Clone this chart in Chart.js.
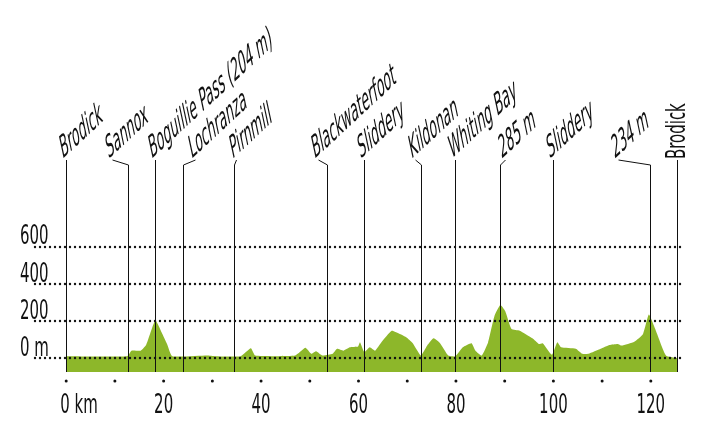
<!DOCTYPE html>
<html><head><meta charset="utf-8">
<script src="https://cdn.jsdelivr.net/npm/chart.js@4"></script>
<style>body{margin:0;background:#fff}#wrap{width:712px;height:445px}</style>
</head><body><div id="wrap"><canvas id="myChart"></canvas></div>
<script>
// elevation profile, km along route and metres
var km = [0,12.5,13.4,15.3,16.4,18.3,19.6,20.7,21.8,28.9,30.6,35.8,37.9,38.8,47,49.1,50.3,51.3,52.6,54.7,55.6,56.9,58.2,59.9,60.3,61.2,62.3,63.4,64.7,66.8,68.5,69.8,71.1,72.8,74.1,75.4,76.7,78.4,79.9,81.4,83.2,84,85.3,86.6,87.9,89.1,90.1,91.4,93.1,95.7,97,97.8,99.7,100.8,101.6,104.6,105.9,107.2,109.7,111.5,113.2,114,116.6,118.4,119.6,120.9,123.1,125.4];
var elev = [10,10,40,40,70,204,138,76,10,14,10,10,53,14,14,55,23,37,14,23,50,40,58,62,85,32,58,40,85,147,130,112,81,14,67,106,81,14,10,58,80,40,14,85,226,285,253,156,147,106,76,80,18,85,58,50,23,23,50,70,76,67,88,130,234,156,14,0];

var places = ["Brodick","Sannox","Boguillie Pass (204 m)","Lochranza","Pirnmill","Blackwaterfoot","Sliddery","Kildonan","Whiting Bay","285 m","Sliddery","234 m","Brodick"];
var placeKm = [0,12.7,18.3,23.9,34.5,53.6,61.2,72.8,79.9,89.1,100,119.8,125.4];

var yTicks = [0,200,400,600];
var xTicks = [0,20,40,60,80,100,120];

var FONT = '"DejaVu Sans Condensed",sans-serif';
var SQ = 0.64; // horizontal squeeze to mimic a narrow face
var leaderDx = [0,-16,0,12,2,-9,0,-6,0,5,0,-32,0];

function narrowText(c, s, px, py, align) {
  c.save();
  c.translate(px, py);
  c.scale(SQ, 1);
  c.textAlign = align || 'left';
  c.fillText(s, 0, 0);
  c.restore();
}

var profilePlugin = {
  id: 'profile',
  afterDatasetsDraw: function(chart) {
    var c = chart.ctx, x = chart.scales.x, y = chart.scales.y, a = chart.chartArea;
    c.save();
    c.fillStyle = '#111';
    c.font = '26px ' + FONT;
    c.textBaseline = 'middle';
    yTicks.forEach(function(v) {
      var py = y.getPixelForValue(v);
      narrowText(c, v === 0 ? '0 m' : String(v), 20, py - 9);
    });
    // dotted grid
    yTicks.forEach(function(v) {
      var py = Math.round(y.getPixelForValue(v));
      for (var px = a.left; px <= a.right; px += 5) {
        c.beginPath(); c.arc(px, py, 1.2, 0, Math.PI * 2); c.fill();
      }
    });
    // x dots and labels
    for (var k = 0; k <= 120; k += 10) {
      var px = x.getPixelForValue(k);
      c.beginPath(); c.arc(px, a.bottom + 9, 1.5, 0, Math.PI * 2); c.fill();
    }
    xTicks.forEach(function(k) {
      var px = x.getPixelForValue(k);
      if (k === 0) narrowText(c, '0 km', px - 6, a.bottom + 34, 'left');
      else narrowText(c, String(k), px, a.bottom + 34, 'center');
    });
    // place markers
    c.strokeStyle = '#111';
    c.lineWidth = 1;
    c.font = '26px ' + FONT;
    c.textBaseline = 'alphabetic';
    var last = places.length - 1;
    placeKm.forEach(function(k, i) {
      var px = Math.round(x.getPixelForValue(k)) + 0.5;
      var top = a.top + 2, foot = a.top - 3;
      c.beginPath();
      c.moveTo(px, a.bottom);
      c.lineTo(px, top);
      c.lineTo(px + leaderDx[i], foot);
      c.stroke();
      c.save();
      c.translate(px + leaderDx[i] + (i === last ? 7 : -4), foot - 1);
      if (i === last) {
        c.rotate(-Math.PI / 2);
        c.scale(SQ, 1);
      } else {
        c.rotate(-Math.PI * 43 / 180);
        c.transform(1, 0, -0.6, 1, 0, 0);
        c.scale(SQ, 1);
      }
      c.fillText(places[i], 0, 0);
      c.restore();
    });
    c.restore();
  }
};

new Chart(document.getElementById('myChart'), {
  type: 'line',
  data: {
    datasets: [{
      data: km.map(function(k, i) { return { x: k, y: elev[i] }; }),
      borderWidth: 0,
      borderColor: '#8db72a',
      backgroundColor: '#8db72a',
      pointRadius: 0,
      fill: 'start',
      tension: 0.15
    }]
  },
  options: {
    responsive: true,
    maintainAspectRatio: false,
    animation: false,
    layout: { padding: { left: 35, right: 29, top: 163, bottom: 73 } },
    plugins: { legend: { display: false }, tooltip: { enabled: false } },
    scales: {
      x: { type: 'linear', min: -6.4, max: 126.6, display: false },
      y: { min: -75, max: 1050, display: false }
    }
  },
  plugins: [profilePlugin]
});
</script>
</body></html>
